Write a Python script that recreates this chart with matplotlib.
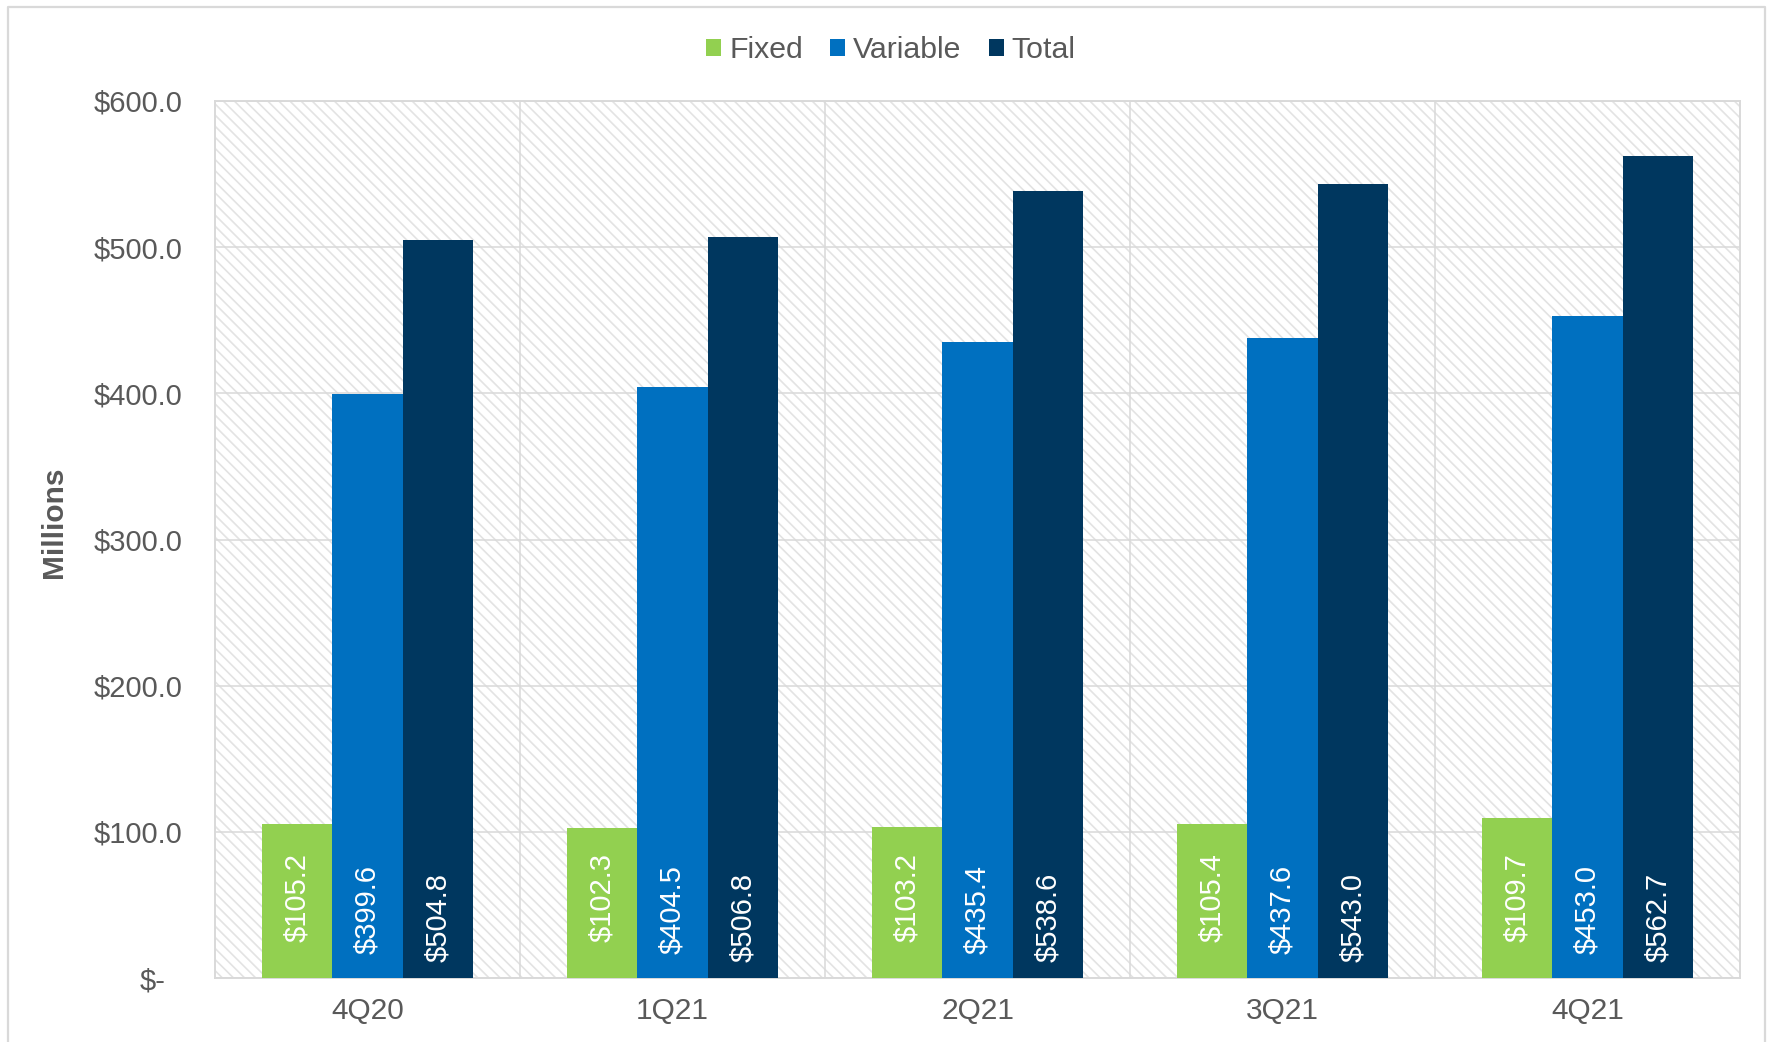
import matplotlib
matplotlib.use("Agg")
import matplotlib.pyplot as plt
import numpy as np
from matplotlib.patches import Patch, Rectangle
from matplotlib.lines import Line2D
from matplotlib.ticker import FixedLocator
import matplotlib.transforms as mtransforms

quarters = ["4Q20", "1Q21", "2Q21", "3Q21", "4Q21"]
fixed = [105.2, 102.3, 103.2, 105.4, 109.7]
variable = [399.6, 404.5, 435.4, 437.6, 453.0]
total = [504.8, 506.8, 538.6, 543.0, 562.7]
series_names = ["Fixed", "Variable", "Total"]
y_ticks = [0, 100, 200, 300, 400, 500, 600]
y_tick_labels = ["$-", "$100.0", "$200.0", "$300.0", "$400.0", "$500.0", "$600.0"]

colors = ["#92D050", "#0070C0", "#00375F"]
label_offsets_px = [36, 24, 16]  # distance of label end from bar base

plt.rcParams["font.family"] = ["Liberation Sans", "DejaVu Sans"]
plt.rcParams["hatch.linewidth"] = 1.2
plt.rcParams["hatch.color"] = "#e3e3e3"

W, H = 1769, 1042
DPI = 100
fig = plt.figure(figsize=(W / DPI, H / DPI), dpi=DPI)
fig.patch.set_facecolor("white")

L, R, T, B = 215, 1740, 101, 978
ax = fig.add_axes([L / W, 1 - B / H, (R - L) / W, (B - T) / H])
ax.set_facecolor("white")
ax.add_patch(Rectangle((0, 0), 1, 1, transform=ax.transAxes, facecolor="white",
                       edgecolor="#e3e3e3", hatch="\\\\\\", linewidth=0, zorder=0))

x = np.arange(len(quarters))
bw = 0.231
gray = "#595959"
for i, (vals, name) in enumerate(zip([fixed, variable, total], series_names)):
    pos = x + (i - 1) * bw
    ax.bar(pos, vals, width=bw, color=colors[i], zorder=3, label=name)
    for px, v in zip(pos, vals):
        off = mtransforms.offset_copy(ax.transData, fig=fig, x=0, y=label_offsets_px[i] * 72 / DPI, units="points")
        ax.text(px, 0, f"${v:.1f}", rotation=90, ha="center", va="bottom",
                color="white", fontsize=21, transform=off, zorder=4)

ax.set_xlim(-0.5, len(quarters) - 0.5)
ax.set_ylim(0, 600)
ax.set_xticks(x)
ax.set_xticklabels(quarters)
ax.xaxis.set_minor_locator(FixedLocator(np.arange(0.5, len(quarters) - 0.5, 1.0)))
ax.set_yticks(y_ticks)
ax.set_yticklabels(y_tick_labels)
ax.grid(True, axis="y", which="major", color="#d9d9d9", linewidth=1.1, zorder=1)
ax.grid(True, axis="x", which="minor", color="#d9d9d9", linewidth=1.1, zorder=1)
ax.set_axisbelow(True)
ax.tick_params(axis="both", which="both", length=0)
ax.tick_params(axis="y", labelsize=21, labelcolor=gray, pad=23.5)
ax.tick_params(axis="x", labelsize=21.5, labelcolor=gray, pad=13.5)
for sp in ax.spines.values():
    sp.set_color("#d9d9d9")
    sp.set_linewidth(1.4)

# shift the "$-" label leftwards as in accounting format
zero_lbl = ax.get_yticklabels()[0]
zero_lbl.set_transform(zero_lbl.get_transform() + mtransforms.ScaledTranslation(-17 / DPI, 0, fig.dpi_scale_trans))

fig.text(54 / W, 1 - 522 / H, "Millions", rotation=90, ha="center", va="center",
         fontsize=21.5, fontweight="bold", color=gray)

handles = [Patch(facecolor=c, edgecolor="none") for c in colors]
fig.legend(handles, series_names, loc="center", bbox_to_anchor=(891 / W, 1 - 50.5 / H),
           ncol=3, frameon=False, fontsize=21.8, labelcolor=gray,
           handlelength=0.5, handleheight=0.5, handletextpad=0.26, columnspacing=0.9,
           borderpad=0, borderaxespad=0)

# outer frame (left, top, right)
fc = "#d9d9d9"
fx0, fx1, fy0 = 8 / W, 1765 / W, 1 - 7 / H
fig.add_artist(Line2D([fx0, fx0, fx1, fx1], [0, fy0, fy0, 0], transform=fig.transFigure,
                      color=fc, linewidth=1.6))

fig.savefig("out.png", dpi=DPI)
